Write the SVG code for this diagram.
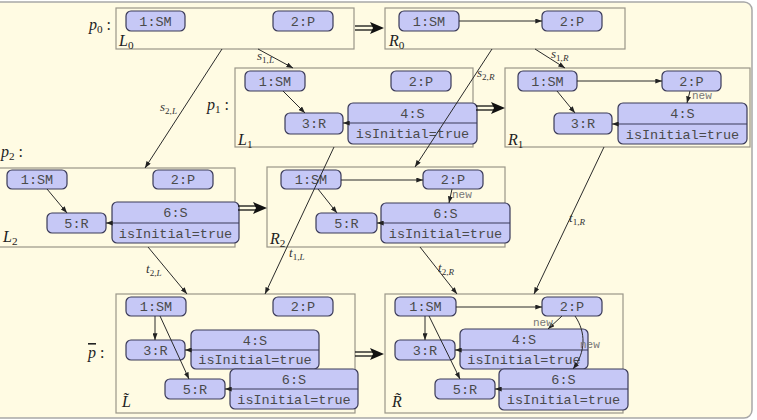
<svg xmlns="http://www.w3.org/2000/svg" width="757" height="420" viewBox="0 0 757 420">
<style>
.frame{fill:#fffbe3;stroke:#a8a8a8;stroke-width:1.5}
.g{fill:none;stroke:#9a9688;stroke-width:1.2}
.n{fill:#c6c8f6;stroke:#3a3a58;stroke-width:1.2}
.dv{stroke:#3a3a58;stroke-width:1.2}
.t{font-family:"Liberation Mono","DejaVu Sans Mono",monospace;font-size:13.5px;fill:#4a4a4a;text-anchor:middle}
.nw{font-family:"Liberation Mono","DejaVu Sans Mono",monospace;font-size:11px;fill:#777}
.m{font-family:"Liberation Serif","DejaVu Serif",serif;font-style:italic;font-size:16px;fill:#222}
.ml{font-family:"Liberation Serif","DejaVu Serif",serif;font-style:italic;font-size:13px;fill:#333}
.sub{font-size:70%}
.up{font-style:normal}
.e{fill:none;stroke:#2a2a2a;stroke-width:1;marker-end:url(#ah)}
.db{stroke:#111;stroke-width:1.3}
</style>
<defs>
<marker id="ah" viewBox="0 0 8 6" refX="8" refY="3" markerWidth="7" markerHeight="5" markerUnits="userSpaceOnUse" orient="auto">
<path d="M0,0 L8,3 L0,6 Z" fill="#222"/>
</marker>
<g id="dbl">
<line class="db" x1="0" y1="-2" x2="18" y2="-2"/>
<line class="db" x1="0" y1="2" x2="18" y2="2"/>
<path d="M29,0 L15,-6 L18,0 L15,6 Z" fill="#111"/>
</g>
</defs>
<rect class="frame" x="-10" y="2" width="762" height="416" rx="8"/>

<!-- L0 -->
<g id="L0">
<rect class="g" x="116" y="8" width="238" height="41"/>
<text class="m" x="89" y="30">p<tspan class="sub up" dy="3">0</tspan><tspan class="up" dy="-3"> :</tspan></text>
<text class="m" x="119" y="46">L<tspan class="sub up" dy="3">0</tspan></text>
<g id="L0_1SM"><rect class="n" x="126" y="11" width="59" height="20" rx="5"/><text class="t" x="155.5" y="25.5">1:SM</text></g>
<g id="L0_2P"><rect class="n" x="273" y="11" width="60" height="20" rx="5"/><text class="t" x="303" y="25.5">2:P</text></g>
</g>

<!-- R0 -->
<g id="R0">
<rect class="g" x="385" y="8" width="240" height="41"/>
<text class="m" x="389" y="46">R<tspan class="sub up" dy="3">0</tspan></text>
<g id="R0_1SM"><rect class="n" x="399" y="11" width="60" height="20" rx="5"/><text class="t" x="429" y="25.5">1:SM</text></g>
<g id="R0_2P"><rect class="n" x="542" y="11" width="60" height="20" rx="5"/><text class="t" x="572" y="25.5">2:P</text></g>
</g>

<!-- L1 -->
<g id="L1">
<rect class="g" x="235" y="68" width="238" height="79"/>
<text class="m" x="207" y="110">p<tspan class="sub up" dy="3">1</tspan><tspan class="up" dy="-3"> :</tspan></text>
<text class="m" x="238" y="145">L<tspan class="sub up" dy="3">1</tspan></text>
<g id="L1_1SM"><rect class="n" x="245" y="71" width="60" height="20" rx="5"/><text class="t" x="275" y="85.5">1:SM</text></g>
<g id="L1_2P"><rect class="n" x="391" y="71" width="60" height="20" rx="5"/><text class="t" x="421" y="85.5">2:P</text></g>
<g id="L1_3R"><rect class="n" x="285" y="113" width="58" height="21" rx="5"/><text class="t" x="314" y="128">3:R</text></g>
<g id="L1_4S"><rect class="n" x="348" y="103" width="129" height="41" rx="5"/><line class="dv" x1="348" y1="123" x2="477" y2="123"/><text class="t" x="412.5" y="117.5">4:S</text><text class="t" x="412.5" y="138">isInitial=true</text></g>
</g>

<!-- R1 -->
<g id="R1">
<rect class="g" x="505" y="68" width="245" height="79"/>
<text class="m" x="508" y="145">R<tspan class="sub up" dy="3">1</tspan></text>
<g id="R1_1SM"><rect class="n" x="518" y="71" width="59" height="20" rx="5"/><text class="t" x="547.5" y="85.5">1:SM</text></g>
<g id="R1_2P"><rect class="n" x="662" y="71" width="59" height="20" rx="5"/><text class="t" x="691.5" y="85.5">2:P</text></g>
<g id="R1_3R"><rect class="n" x="554" y="113" width="58" height="21" rx="5"/><text class="t" x="583" y="128">3:R</text></g>
<g id="R1_4S"><rect class="n" x="618" y="103" width="129" height="41" rx="5"/><line class="dv" x1="618" y1="124" x2="747" y2="124"/><text class="t" x="682.5" y="118">4:S</text><text class="t" x="682.5" y="138.5">isInitial=true</text></g>
</g>

<!-- L2 -->
<g id="L2">
<rect class="g" x="-1" y="168" width="236" height="79"/>
<text class="m" x="1" y="157">p<tspan class="sub up" dy="3">2</tspan><tspan class="up" dy="-3"> :</tspan></text>
<text class="m" x="3" y="242">L<tspan class="sub up" dy="3">2</tspan></text>
<g id="L2_1SM"><rect class="n" x="7" y="170" width="60" height="19" rx="5"/><text class="t" x="37" y="184">1:SM</text></g>
<g id="L2_2P"><rect class="n" x="153" y="170" width="60" height="19" rx="5"/><text class="t" x="183" y="184">2:P</text></g>
<g id="L2_5R"><rect class="n" x="47" y="213" width="59" height="20" rx="5"/><text class="t" x="76.5" y="227.5">5:R</text></g>
<g id="L2_6S"><rect class="n" x="112" y="202" width="127" height="41" rx="5"/><line class="dv" x1="112" y1="223" x2="239" y2="223"/><text class="t" x="175.5" y="217">6:S</text><text class="t" x="175.5" y="237.5">isInitial=true</text></g>
</g>

<!-- R2 -->
<g id="R2">
<rect class="g" x="267" y="167" width="238" height="80"/>
<text class="m" x="270" y="244">R<tspan class="sub up" dy="3">2</tspan></text>
<g id="R2_1SM"><rect class="n" x="281" y="170" width="60" height="19" rx="5"/><text class="t" x="311" y="184">1:SM</text></g>
<g id="R2_2P"><rect class="n" x="423" y="170" width="60" height="19" rx="5"/><text class="t" x="453" y="184">2:P</text></g>
<g id="R2_5R"><rect class="n" x="316" y="213" width="61" height="20" rx="5"/><text class="t" x="346.5" y="227.5">5:R</text></g>
<g id="R2_6S"><rect class="n" x="381" y="203" width="129" height="40" rx="5"/><line class="dv" x1="381" y1="223" x2="510" y2="223"/><text class="t" x="445.5" y="217.5">6:S</text><text class="t" x="445.5" y="237.5">isInitial=true</text></g>
</g>

<!-- L tilde -->
<g id="Lt">
<rect class="g" x="116" y="294" width="239" height="119"/>
<text class="m" x="88" y="358"><tspan style="text-decoration:overline">p</tspan><tspan class="up"> :</tspan></text>
<text class="m" x="122" y="407">L̃</text>
<g id="Lt_1SM"><rect class="n" x="126" y="297" width="60" height="19" rx="5"/><text class="t" x="156" y="311">1:SM</text></g>
<g id="Lt_2P"><rect class="n" x="273" y="297" width="60" height="19" rx="5"/><text class="t" x="303" y="311">2:P</text></g>
<g id="Lt_3R"><rect class="n" x="126" y="340" width="59" height="20" rx="5"/><text class="t" x="155.5" y="354.5">3:R</text></g>
<g id="Lt_4S"><rect class="n" x="191" y="330" width="128" height="39" rx="5"/><line class="dv" x1="191" y1="350" x2="319" y2="350"/><text class="t" x="255" y="344.5">4:S</text><text class="t" x="255" y="364">isInitial=true</text></g>
<g id="Lt_5R"><rect class="n" x="165" y="379" width="60" height="20" rx="5"/><text class="t" x="195" y="393.5">5:R</text></g>
<g id="Lt_6S"><rect class="n" x="230" y="369" width="128" height="40" rx="5"/><line class="dv" x1="230" y1="389" x2="358" y2="389"/><text class="t" x="294" y="383.5">6:S</text><text class="t" x="294" y="403.5">isInitial=true</text></g>
</g>

<!-- R tilde -->
<g id="Rt">
<rect class="g" x="385" y="294" width="238" height="119"/>
<text class="m" x="392" y="407">R̃</text>
<g id="Rt_1SM"><rect class="n" x="395" y="297" width="61" height="19" rx="5"/><text class="t" x="425.5" y="311">1:SM</text></g>
<g id="Rt_2P"><rect class="n" x="542" y="297" width="60" height="19" rx="5"/><text class="t" x="572" y="311">2:P</text></g>
<g id="Rt_3R"><rect class="n" x="395" y="340" width="60" height="20" rx="5"/><text class="t" x="425" y="354.5">3:R</text></g>
<g id="Rt_4S"><rect class="n" x="460" y="329" width="128" height="40" rx="5"/><line class="dv" x1="460" y1="350" x2="588" y2="350"/><text class="t" x="524" y="344">4:S</text><text class="t" x="524" y="364">isInitial=true</text></g>
<g id="Rt_5R"><rect class="n" x="435" y="379" width="60" height="20" rx="5"/><text class="t" x="465" y="393.5">5:R</text></g>
<g id="Rt_6S"><rect class="n" x="499" y="369" width="129" height="41" rx="5"/><line class="dv" x1="499" y1="389" x2="628" y2="389"/><text class="t" x="563.5" y="383.5">6:S</text><text class="t" x="563.5" y="404">isInitial=true</text></g>
</g>

<!-- connectors -->
<g id="connectors">
<line class="e" x1="459" y1="21" x2="542" y2="21"/>
<line class="e" x1="283" y1="91" x2="305" y2="113"/>
<line class="e" x1="348" y1="123" x2="343" y2="123"/>
<line class="e" x1="577" y1="81" x2="662" y2="81"/>
<line class="e" x1="557" y1="91" x2="575" y2="113"/>
<line class="e" x1="690" y1="91" x2="687" y2="103"/>
<line class="e" x1="618" y1="124" x2="612" y2="124"/>
<line class="e" x1="47" y1="189" x2="67" y2="213"/>
<line class="e" x1="112" y1="223" x2="106" y2="223"/>
<line class="e" x1="341" y1="180" x2="423" y2="180"/>
<line class="e" x1="318" y1="189" x2="337" y2="213"/>
<line class="e" x1="452" y1="189" x2="449" y2="203"/>
<line class="e" x1="381" y1="223" x2="377" y2="223"/>
<line class="e" x1="155" y1="316" x2="155" y2="340"/>
<line class="e" x1="160" y1="316" x2="189" y2="379"/>
<line class="e" x1="191" y1="350" x2="185" y2="350"/>
<line class="e" x1="230" y1="389" x2="225" y2="389"/>
<line class="e" x1="456" y1="307" x2="542" y2="307"/>
<line class="e" x1="425" y1="316" x2="425" y2="340"/>
<line class="e" x1="429" y1="316" x2="460" y2="379"/>
<line class="e" x1="562" y1="316" x2="548" y2="329"/>
<path class="e" d="M575,316 C586,332 586,352 573,369"/>
<line class="e" x1="460" y1="350" x2="455" y2="350"/>
<line class="e" x1="499" y1="389" x2="495" y2="389"/>
<text class="nw" x="692" y="99">new</text>
<text class="nw" x="452" y="198">new</text>
<text class="nw" x="533" y="326">new</text>
<text class="nw" x="580" y="348">new</text>
<use href="#dbl" x="355" y="28"/>
<use href="#dbl" x="476" y="108"/>
<use href="#dbl" x="238" y="208"/>
<use href="#dbl" x="355" y="354"/>
<line class="e" x1="258" y1="49" x2="293" y2="68"/>
<line class="e" x1="222" y1="49" x2="145" y2="168"/>
<line class="e" x1="535" y1="49" x2="565" y2="68"/>
<line class="e" x1="492" y1="49" x2="415" y2="167"/>
<line class="e" x1="148" y1="247" x2="187" y2="294"/>
<line class="e" x1="334" y1="147" x2="265" y2="294"/>
<line class="e" x1="420" y1="247" x2="457" y2="294"/>
<line class="e" x1="604" y1="147" x2="534" y2="294"/>
<text class="ml" x="257" y="60">s<tspan class="sub up" dy="3">1,</tspan><tspan class="sub">L</tspan></text>
<text class="ml" x="160" y="111">s<tspan class="sub up" dy="3">2,</tspan><tspan class="sub">L</tspan></text>
<text class="ml" x="551" y="58">s<tspan class="sub up" dy="3">1,</tspan><tspan class="sub">R</tspan></text>
<text class="ml" x="477" y="77">s<tspan class="sub up" dy="3">2,</tspan><tspan class="sub">R</tspan></text>
<text class="ml" x="146" y="273">t<tspan class="sub up" dy="3">2,</tspan><tspan class="sub">L</tspan></text>
<text class="ml" x="289" y="257">t<tspan class="sub up" dy="3">1,</tspan><tspan class="sub">L</tspan></text>
<text class="ml" x="438" y="272">t<tspan class="sub up" dy="3">2,</tspan><tspan class="sub">R</tspan></text>
<text class="ml" x="569" y="222">t<tspan class="sub up" dy="3">1,</tspan><tspan class="sub">R</tspan></text>
</g>
</svg>
